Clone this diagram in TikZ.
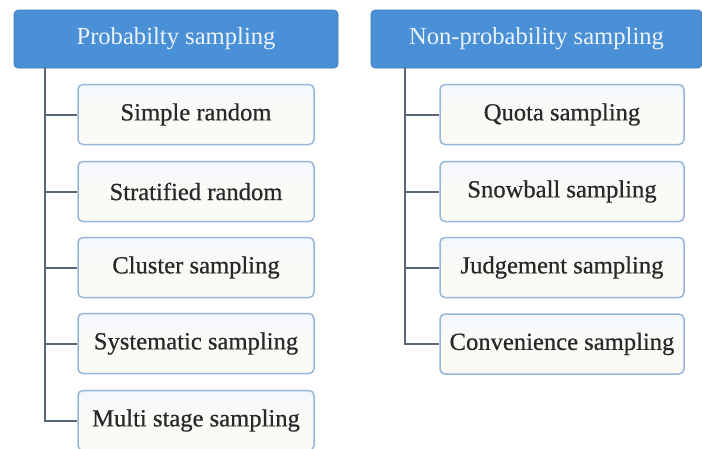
\documentclass[tikz,border=0pt]{standalone}
\usepackage{fontspec}
\setmainfont{Liberation Serif}
\newfontfamily\boxfont[FakeBold=0.6]{Liberation Serif}
\definecolor{hdrblue}{RGB}{74,144,214}
\definecolor{hdrtext}{RGB}{236,243,251}
\definecolor{boxline}{RGB}{150,182,218}
\definecolor{boxfill}{RGB}{252,250,246}
\definecolor{boxtop}{RGB}{244,248,253}
\definecolor{linkcol}{RGB}{88,102,120}
\definecolor{txtcol}{RGB}{40,40,40}
\begin{document}
\begin{tikzpicture}[x=1pt,y=-1pt,
  hdrbox/.style={rectangle, rounded corners=4pt, fill=hdrblue, draw=hdrblue!85!black, line width=0.6pt,
    minimum height=58pt, text=hdrtext, inner sep=0pt, font=\fontsize{24.6}{28}\selectfont},
  itembox/.style={rectangle, rounded corners=5pt, draw=boxline, line width=1.5pt,
    top color=boxtop, bottom color=boxfill, middle color=boxfill,
    minimum height=60pt, text=txtcol, inner sep=0pt, font=\boxfont\fontsize{24.6}{28}\selectfont},
  link/.style={draw=linkcol, line width=2pt}
]
\useasboundingbox (0,0) rectangle (702,448);
% headers
\node[hdrbox, minimum width=324pt] (hl) at (176,39) {Probabilty sampling};
\node[hdrbox, minimum width=331pt] (hr) at (536.5,39) {Non-probability sampling};
% left items
\node[itembox, minimum width=236pt] (l1) at (196,114.5) {Simple random};
\node[itembox, minimum width=236pt] (l2) at (196,191.5) {Stratified random};
\node[itembox, minimum width=236pt] (l3) at (196,267.5) {Cluster sampling};
\node[itembox, minimum width=236pt] (l4) at (196,343.5) {Systematic sampling};
\node[itembox, minimum width=236pt] (l5) at (196,420.5) {Multi stage sampling};
% right items
\node[itembox, minimum width=244pt] (r1) at (562,114.5) {Quota sampling};
\node[itembox, minimum width=244pt] (r2) at (562,191.5) {Snowball sampling};
\node[itembox, minimum width=244pt] (r3) at (562,267.5) {Judgement sampling};
\node[itembox, minimum width=244pt] (r4) at (562,344) {Convenience sampling};
% stems
\coordinate (ls) at (45,68);
\coordinate (rs) at (405,68);
\draw[link] (ls) |- (l5.west);
\foreach \n in {l1,l2,l3,l4} \draw[link] (ls |- \n.west) -- (\n.west);
\draw[link] (rs) |- (r4.west);
\foreach \n in {r1,r2,r3} \draw[link] (rs |- \n.west) -- (\n.west);
\end{tikzpicture}
\end{document}
